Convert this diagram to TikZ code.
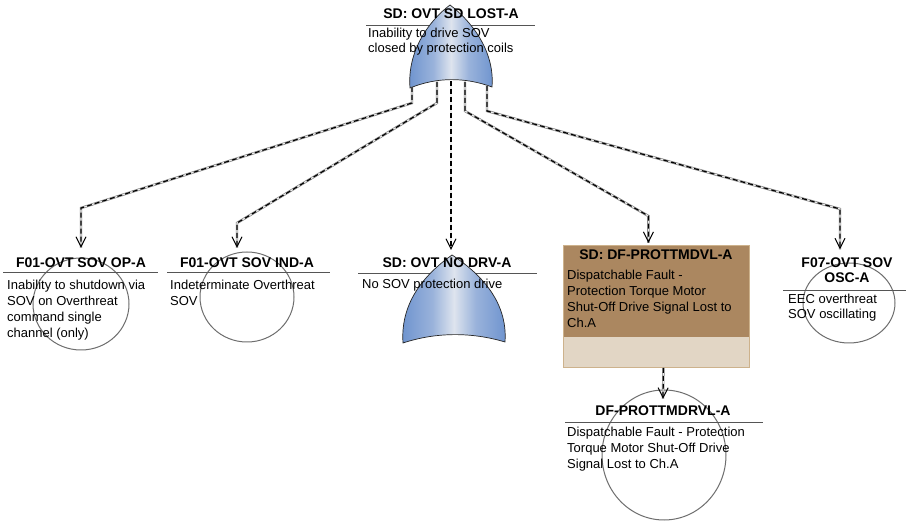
\documentclass[tikz,border=0pt]{standalone}
\usepackage{fontspec}
\setmainfont{Liberation Sans}
\usetikzlibrary{arrows.meta,calc}

\definecolor{gateblue}{RGB}{108,146,206}
\definecolor{gatelight}{RGB}{222,228,238}
\definecolor{boxbrown}{RGB}{171,135,96}
\definecolor{boxlight}{RGB}{226,214,197}
\definecolor{boxedge}{RGB}{205,178,140}
\definecolor{ruleclr}{RGB}{85,85,85}
\definecolor{ringclr}{RGB}{110,110,110}

% blue-white-blue band across the gate body
\pgfdeclarehorizontalshading{gateshade}{100bp}{
  color(0bp)=(gateblue); color(25bp)=(gateblue);
  color(40bp)=(gateblue!60!gatelight); color(50bp)=(gatelight);
  color(60bp)=(gateblue!60!gatelight);
  color(75bp)=(gateblue); color(100bp)=(gateblue)}

\tikzset{
  title/.style={font=\bfseries\fontsize{14}{15}\selectfont, inner sep=0pt, align=center},
  desc/.style={font=\fontsize{13}{16}\selectfont, inner sep=0pt, anchor=north west, align=left},
  desctight/.style={desc, font=\fontsize{13}{15}\selectfont},
  rulel/.style={draw=ruleclr, line width=0.9pt},
  ring/.style={draw=ringclr, line width=1pt},
  gate/.style={shading=gateshade},
  gateedge/.style={draw=black!85, line width=0.7pt},
  conn/.style={draw=black, line width=1.2pt, dash pattern=on 5pt off 3pt,
    -{Straight Barb[length=10pt,width=10pt,line width=1pt]},
    preaction={draw=black!50, double=black!8, double distance=1.2pt, line width=0.6pt, solid, -}},
}

\begin{document}
\begin{tikzpicture}[x=1pt,y=-1pt]
\useasboundingbox[fill=white] (0,0) rectangle (906,521);

% ---- basic event circles
\draw[ring] (81,304) ellipse [x radius=48, y radius=46];
\draw[ring] (247,297) ellipse [x radius=47, y radius=45];
\draw[ring] (849,303) ellipse [x radius=46, y radius=40];
\draw[ring] (664,455) ellipse [x radius=62, y radius=65];

% ---- dispatchable fault box
\node[draw=boxedge, fill=boxbrown, line width=0.8pt, minimum width=186pt, minimum height=122pt,
      inner sep=0pt, anchor=north west] (fault) at (563,245) {};
\fill[boxlight] ([shift={(0.4pt,0.4pt)}]fault.south west) rectangle ([shift={(-0.4pt,31pt)}]fault.south east);
\draw[boxedge, line width=0.8pt] (fault.south west) rectangle (fault.north east);

% ---- title rules
\draw[rulel] (366,25) -- (535,25);
\draw[rulel] (3,272) -- (158,272);
\draw[rulel] (167,272) -- (330,272);
\draw[rulel] (358,273) -- (537,273);
\draw[rulel] (783,290) -- (906,290);
\draw[rulel] (565,422) -- (763,422);

% ---- gates (shaded OR-style symbols)
\def\topgate{(410,88) .. controls (407,50) and (430,20) .. (450,5)
  .. controls (470,20) and (495,50) .. (492,87)
  .. controls (465,77) and (437,77) .. (410,88) -- cycle}
\def\midgate{(403,343) .. controls (400,300) and (428,272) .. (452,255)
  .. controls (478,272) and (508,300) .. (505,342)
  .. controls (472,332) and (436,332) .. (403,343) -- cycle}
\shade[gate] \topgate;
\draw[gateedge] \topgate;
\shade[gate] \midgate;
\draw[gateedge] \midgate;

% ---- titles
\node[title] (ttop) at (451,14) {SD: OVT SD LOST-A};
\node[title] (t1) at (81,263) {F01-OVT SOV OP-A};
\node[title] (t2) at (247,263) {F01-OVT SOV IND-A};
\node[title] (t3) at (447,263) {SD: OVT NO DRV-A};
\node[title] (t4) at (656,255) {SD: DF-PROTTMDVL-A};
\node[title] (t5) at (847,270) {F07-OVT SOV\\OSC-A};
\node[title] (t6) at (663,411) {DF-PROTTMDRVL-A};

% ---- descriptions
\node[desctight] (dtop) at (368,28) {Inability to drive SOV\\closed by protection coils};
\node[desc] (d1) at (7,280) {Inability to shutdown via\\SOV on Overthreat\\command single\\channel (only)};
\node[desc] (d2) at (170,280) {Indeterminate Overthreat\\SOV};
\node[desc] (d3) at (362,279) {No SOV protection drive};
\node[desc] (d4) at (567,270) {Dispatchable Fault -\\Protection Torque Motor\\Shut-Off Drive Signal Lost to\\Ch.A};
\node[desctight] (d5) at (788,294) {EEC overthreat\\SOV oscillating};
\node[desc] (d6) at (567,427) {Dispatchable Fault - Protection\\Torque Motor Shut-Off Drive\\Signal Lost to Ch.A};

% ---- connector anchors on the top gate and arrow ends
\coordinate (g1) at (412,87);
\coordinate (g2) at (437,82);
\coordinate (g3) at (451,81);
\coordinate (g4) at (465,82);
\coordinate (g5) at (487,86);
\coordinate (a1) at ([yshift=10pt]t1.north);
\coordinate (a2) at ([xshift=-10pt,yshift=10pt]t2.north);
\coordinate (a3) at ([xshift=4pt,yshift=8pt]t3.north);
\coordinate (a4) at ([xshift=-8pt,yshift=2pt]fault.north);
\coordinate (a5) at ([xshift=-7pt,yshift=8pt]t5.north);
\coordinate (a6) at ([yshift=7pt]t6.north);

% ---- connectors
\draw[conn] (g1) -- ++(0,16) -- (a1 |- 0,208) -- (a1);
\draw[conn] (g2) -- ++(0,21) -- (a2 |- 0,223) -- (a2);
\draw[conn] (g3) -- (g3 |- a3);
\draw[conn] (g4) -- ++(0,29) -- (a4 |- 0,216) -- (a4);
\draw[conn] (g5) -- ++(0,25) -- (a5 |- 0,209) -- (a5);
\draw[conn] ([xshift=7pt]fault.south) -- (a6);
\end{tikzpicture}
\end{document}
